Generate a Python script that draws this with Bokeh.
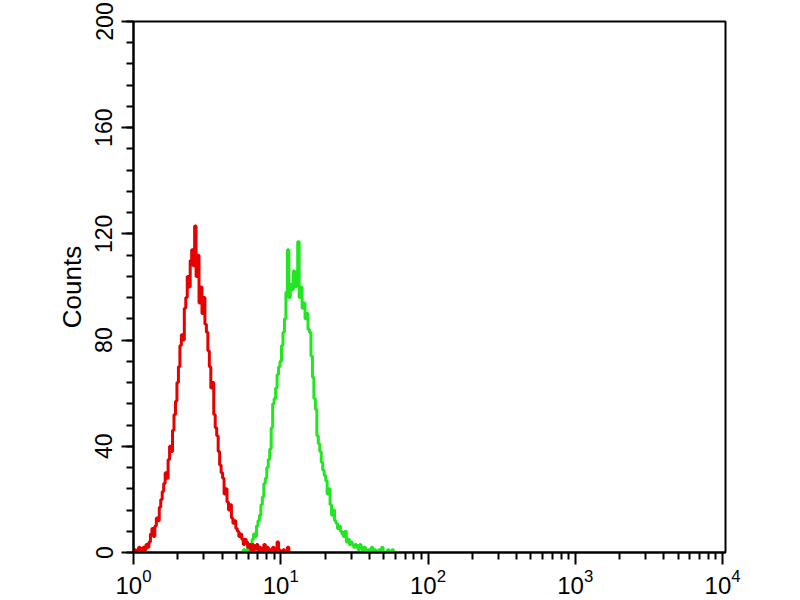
import numpy as np
from bokeh.plotting import figure
from bokeh.models import FixedTicker, Range1d, LogTickFormatter
from bokeh.embed import file_html
from bokeh.resources import INLINE

# Histogram channels: log10 position of the first channel and channel width (decades)
channel_step = 0.01
red_start = 0.00
green_start = 0.74

# Counts per channel
red_counts = [
    0, 1, 0, 1, 2, 1, 0, 2, 1, 3, 2,
    4, 7, 9, 6, 10, 13, 12, 17, 20, 23,
    26, 30, 28, 35, 40, 38, 46, 52, 57, 64,
    70, 78, 82, 80, 92, 96, 104, 100, 110, 114,
    108, 123, 104, 112, 94, 100, 90, 96, 86, 83,
    76, 70, 62, 64, 52, 47, 44, 38, 33, 30,
    28, 22, 24, 19, 16, 18, 13, 11, 12, 9,
    8, 6, 7, 5, 3, 5, 4, 2, 3, 1,
    3, 1, 2, 3, 0, 2, 1, 0, 3, 1,
    2, 0, 1, 0, 2, 0, 0, 4, 1, 0,
    0, 1, 0, 0, 2, 0,
]
green_counts = [
    0, 1, 0, 1, 2, 1, 3,
    5, 7, 6, 10, 12, 14, 18, 21, 26, 28,
    32, 35, 39, 47, 56, 58, 62, 67, 70, 72,
    78, 83, 88, 98, 114, 96, 101, 99, 106, 100,
    104, 117, 96, 100, 92, 94, 88, 90, 84, 83,
    74, 66, 58, 54, 44, 41, 38, 34, 31, 29,
    27, 22, 24, 18, 14, 16, 12, 11, 9, 10,
    8, 7, 6, 8, 4, 5, 3, 4, 3, 2,
    3, 2, 1, 3, 2, 0, 2, 1, 0, 1,
    0, 2, 0, 1, 0, 0, 1, 0, 2, 0,
    0, 0, 1, 0, 0, 1, 0, 0, 0, 0,
]

x_major_ticks = [1, 10, 100, 1000, 10000]
x_minor_mantissas = [2, 3, 4, 5, 6, 7, 8, 9]
y_major_ticks = [0, 40, 80, 120, 160, 200]
y_minor_ticks = [v for v in range(0, 201, 8)]
y_label = "Counts"

red_x = 10 ** (red_start + channel_step * np.arange(len(red_counts)))
green_x = 10 ** (green_start + channel_step * np.arange(len(green_counts)))

p = figure(
    width=790, height=598,
    x_axis_type="log",
    x_range=Range1d(1, 10 ** 4.02), y_range=Range1d(0, 200),
    output_backend="svg", toolbar_location=None,
    min_border_left=133, min_border_right=65,
    min_border_top=21, min_border_bottom=46,
)
p.background_fill_color = "white"
p.border_fill_color = "white"
p.outline_line_color = "black"
p.outline_line_width = 2
p.grid.visible = False

FONT = "Liberation Sans"

xa = p.xaxis[0]
xa.ticker = FixedTicker(
    ticks=x_major_ticks,
    minor_ticks=[m * t for t in x_major_ticks[:-1] for m in x_minor_mantissas],
)
xa.formatter = LogTickFormatter()
xa.axis_line_width = 2
xa.major_tick_line_width = 2
xa.minor_tick_line_width = 2
xa.major_tick_in = 0
xa.major_tick_out = 12
xa.minor_tick_in = 0
xa.minor_tick_out = 7
xa.major_label_standoff = 4
xa.major_label_text_font = FONT
xa.major_label_text_font_size = "24px"
xa.major_label_text_color = "black"

ya = p.yaxis[0]
ya.ticker = FixedTicker(ticks=y_major_ticks, minor_ticks=y_minor_ticks)
ya.axis_line_width = 2
ya.major_tick_line_width = 2
ya.minor_tick_line_width = 2
ya.major_tick_in = 0
ya.major_tick_out = 12
ya.minor_tick_in = 0
ya.minor_tick_out = 7
ya.major_label_orientation = "vertical"
ya.major_label_standoff = 9
ya.major_label_text_font = FONT
ya.major_label_text_font_size = "23px"
ya.major_label_text_color = "black"
ya.axis_label = y_label
ya.axis_label_text_font = FONT
ya.axis_label_text_font_style = "normal"
ya.axis_label_text_font_size = "26px"
ya.axis_label_text_color = "black"
ya.axis_label_standoff = 6

p.step(green_x, green_counts, mode="center", line_color="#22e622", line_width=3)
p.step(red_x, red_counts, mode="center", line_color="#e60000", line_width=3)

open("out.html", "w").write(file_html(p, INLINE))
